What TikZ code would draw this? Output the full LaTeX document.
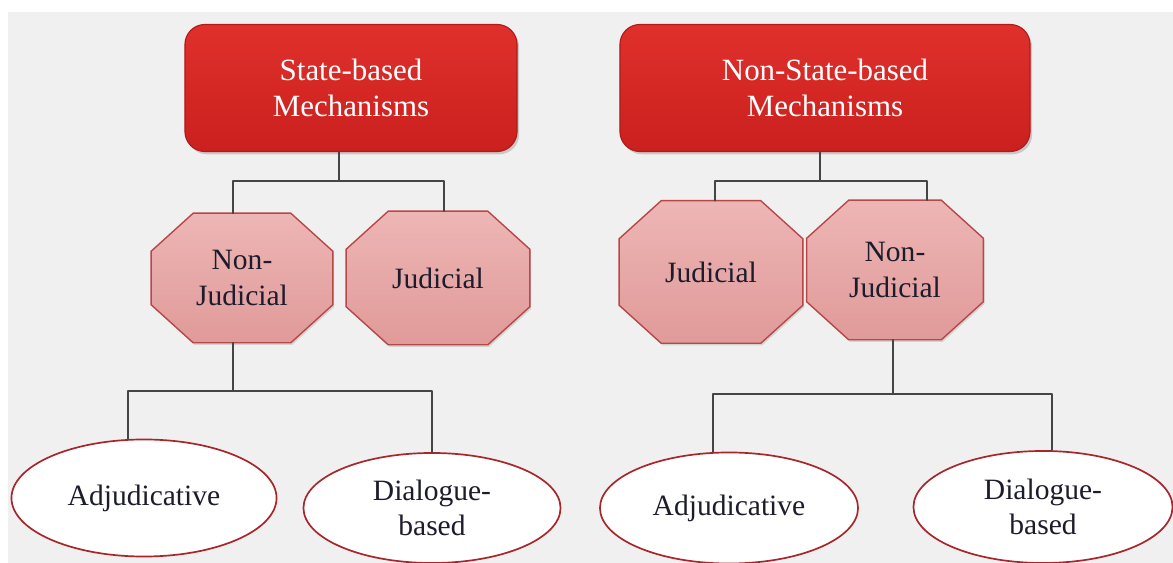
\documentclass[tikz,border=0pt]{standalone}
\usepackage{fontspec}
\setmainfont{Liberation Serif}
\usetikzlibrary{shapes.geometric,shadows,backgrounds}
\definecolor{bggray}{HTML}{F0F0F0}
\definecolor{boxred}{HTML}{E0302C}
\definecolor{boxreddark}{HTML}{CA201E}
\definecolor{boxedge}{HTML}{B01A18}
\definecolor{octtop}{HTML}{EDB6B5}
\definecolor{octbot}{HTML}{E09A99}
\definecolor{octedge}{HTML}{B84848}
\definecolor{ovaledge}{HTML}{A8262A}
\definecolor{inktext}{HTML}{1C1C2C}
\definecolor{linkgray}{HTML}{454545}
% octogone autour d'un noeud
\def\cx{1.05cm} \def\cy{0.95cm}
\newcommand{\octo}[1]{%
  \draw[octline] ([xshift=\cx]#1.north west) -- ([xshift=-\cx]#1.north east)
    -- ([yshift=-\cy]#1.north east) -- ([yshift=\cy]#1.south east)
    -- ([xshift=-\cx]#1.south east) -- ([xshift=\cx]#1.south west)
    -- ([yshift=\cy]#1.south west) -- ([yshift=-\cy]#1.north west) -- cycle;}
\begin{document}
\begin{tikzpicture}[x=0.025cm, y=-0.025cm, line join=round, line cap=round,
    font=\fontsize{21}{25}\selectfont,
    topbox/.style={rounded corners=0.5cm, draw=boxedge, line width=0.8pt,
        top color=boxred, bottom color=boxreddark, text=white, align=center,
        minimum height=3.175cm, font=\fontsize{22}{25}\selectfont,
        drop shadow={opacity=0.35, shadow xshift=1.5pt, shadow yshift=-2pt}},
    octbox/.style={text=inktext, align=center, inner sep=0pt},
    octline/.style={draw=octedge, line width=1pt, top color=octtop, bottom color=octbot,
        drop shadow={opacity=0.25, shadow xshift=1pt, shadow yshift=-1.5pt}},
    ovalbox/.style={ellipse, draw=ovaledge, line width=1.2pt, fill=white,
        text=inktext, align=center, inner sep=0pt},
    link/.style={draw=linkgray, line width=1.3pt}]
    \useasboundingbox (0,0) rectangle (1173,563);

    % niveau 1
    \node[topbox, minimum width=8.3cm] (state) at (351,88) {State-based\\Mechanisms};
    \node[topbox, minimum width=10.25cm] (nonstate) at (825,88) {Non-State-based\\Mechanisms};

    % niveau 2
    \node[octbox, minimum width=4.525cm, minimum height=3.225cm] (njL) at (242,278) {Non-\\Judicial};
    \node[octbox, minimum width=4.575cm, minimum height=3.325cm] (judL) at (438,278) {Judicial};
    \node[octbox, minimum width=4.575cm, minimum height=3.55cm] (judR) at (711,272) {Judicial};
    \node[octbox, minimum width=4.4cm, minimum height=3.475cm] (njR) at (895,270) {Non-\\Judicial};

    % niveau 3
    \node[ovalbox, minimum width=6.625cm, minimum height=2.925cm] (adjL) at (144,498) {Adjudicative};
    \node[ovalbox, minimum width=6.425cm, minimum height=2.75cm] (dialL) at (432,508) {Dialogue-\\based};
    \node[ovalbox, minimum width=6.45cm, minimum height=2.775cm] (adjR) at (729,508) {Adjudicative};
    \node[ovalbox, minimum width=6.475cm, minimum height=2.8cm] (dialR) at (1043,507) {Dialogue-\\based};

    % fond et octogones
    \begin{scope}[on background layer]
      \fill[white] (0,0) rectangle (1173,563);
      \fill[bggray] (8,12) rectangle (1173,563);
      \octo{njL} \octo{judL} \octo{judR} \octo{njR}
    \end{scope}

    % barres
    \coordinate (busA) at (339,181); \coordinate (busAl) at (233,181); \coordinate (busAr) at (444,181);
    \coordinate (busB) at (820,181); \coordinate (busBl) at (715,181); \coordinate (busBr) at (927,181);
    \coordinate (busC) at (233,391); \coordinate (busCl) at (128,391); \coordinate (busCr) at (432,391);
    \coordinate (busD) at (893,394); \coordinate (busDl) at (713,394); \coordinate (busDr) at (1052,394);

    \draw[link] (state.south -| busA) -- (busA);
    \draw[link] (busAl |- njL.north) |- (busAr) -- (busAr |- judL.north);
    \draw[link] (nonstate.south -| busB) -- (busB);
    \draw[link] (busBl |- judR.north) |- (busBr) -- (busBr |- njR.north);
    \draw[link] (njL.south -| busC) -- (busC);
    \draw[link] (busCl |- adjL.north) |- (busCr) -- (busCr |- dialL.north);
    \draw[link] (njR.south -| busD) -- (busD);
    \draw[link] (busDl |- adjR.north) |- (busDr) -- (busDr |- dialR.north);
\end{tikzpicture}
\end{document}
